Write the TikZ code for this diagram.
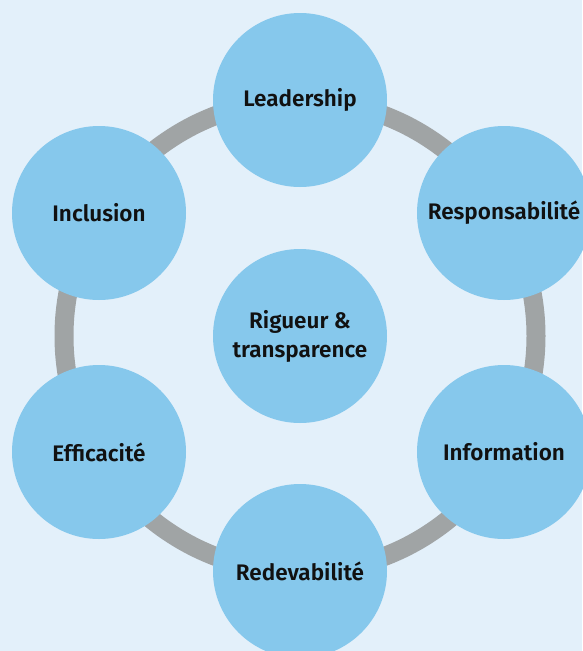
\documentclass[tikz,border=0pt]{standalone}
\usepackage{fontspec}
\setmainfont{Fira Sans}[BoldFont={Fira Sans SemiBold}]
\usetikzlibrary{positioning}
\definecolor{gvBack}{HTML}{E3F0FA}
\definecolor{gvDisc}{HTML}{86C8EC}
\definecolor{gvRing}{HTML}{A0A4A5}
\definecolor{gvInk}{HTML}{111111}
\begin{document}
\begin{tikzpicture}[x=1pt,y=-1pt,
  pillar/.style={circle,fill=gvDisc,draw=none,minimum size=174pt,inner sep=0pt,
    align=center,text=gvInk,font=\fontsize{22.5}{29}\selectfont\bfseries},
  ring/.style={draw=gvRing,line width=19pt}]
\fill[gvBack] (0,0) rectangle (582,651);
\useasboundingbox (0,0) rectangle (582,651);
\coordinate (hub) at (300,336);
\draw[ring] (hub) circle (236);
\node[pillar] (leader) at (300,100) {Leadership};
\node[pillar] (respons) at (504,213) {Responsabilité};
\node[pillar] (info) at (504,452) {Information};
\node[pillar] (redev) at (300,571) {Redevabilité};
\node[pillar] (effic) at (99,452) {Efficacité};
\node[pillar] (inclu) at (99,213) {Inclusion};
\node[pillar] (rigueur) at (hub) {Rigueur \&\\transparence};
\end{tikzpicture}
\end{document}
